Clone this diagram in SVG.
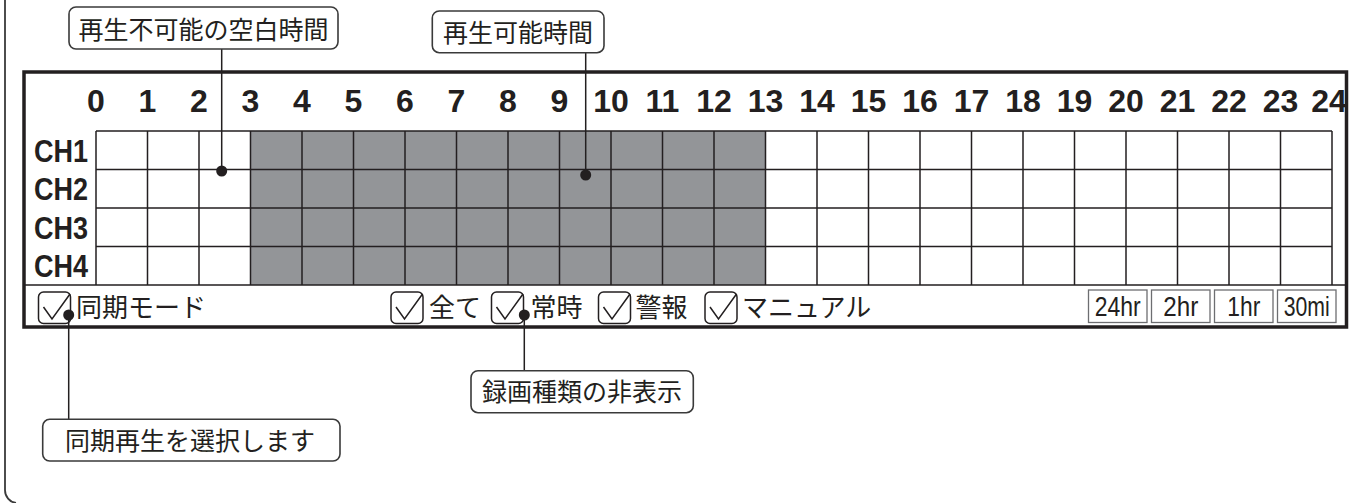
<svg xmlns="http://www.w3.org/2000/svg" width="1357" height="503" viewBox="0 0 1357 503">
<style>
.ln{fill:none;stroke:#231f20;stroke-width:1.5}
.call{fill:#fff;stroke:#3a3a3a;stroke-width:1.6}
.jp{font-family:"Noto Sans CJK JP","Noto Sans",sans-serif;fill:#231f20}
.c25{font-size:25px}
.c26{font-size:26px}
.hr{font-family:"Liberation Sans",Arial,sans-serif;font-weight:bold;font-size:32px;fill:#231f20;text-anchor:middle}
.ch{font-family:"Liberation Sans",Arial,sans-serif;font-weight:bold;font-size:31px;fill:#231f20}
.btn{fill:#fff;stroke:#6d6e71;stroke-width:1.3}
.bt{font-family:"Liberation Sans",Arial,sans-serif;font-size:28px;fill:#231f20;text-anchor:middle}
.cb{fill:#fff;stroke:#231f20;stroke-width:1.5}
.dot{fill:#231f20}
</style>
<rect width="1357" height="503" fill="#fff"/>
<g id="frame">
<path d="M5,0 V490 A13,13 0 0 0 16,503" fill="none" stroke="#3a3a3a" stroke-width="1.8"/>
</g>
<g id="panel">
<rect x="24" y="72" width="1322.5" height="255" fill="#fff" stroke="#231f20" stroke-width="3.5"/>
</g>
<g id="hours">
<text class="hr" x="96" y="112">0</text>
<text class="hr" x="147.5" y="112">1</text>
<text class="hr" x="199" y="112">2</text>
<text class="hr" x="250.5" y="112">3</text>
<text class="hr" x="302" y="112">4</text>
<text class="hr" x="353.5" y="112">5</text>
<text class="hr" x="405" y="112">6</text>
<text class="hr" x="456.5" y="112">7</text>
<text class="hr" x="508" y="112">8</text>
<text class="hr" x="559.5" y="112">9</text>
<text class="hr" x="611" y="112">10</text>
<text class="hr" x="662.5" y="112">11</text>
<text class="hr" x="714" y="112">12</text>
<text class="hr" x="765.5" y="112">13</text>
<text class="hr" x="817" y="112">14</text>
<text class="hr" x="868.5" y="112">15</text>
<text class="hr" x="920" y="112">16</text>
<text class="hr" x="971.5" y="112">17</text>
<text class="hr" x="1023" y="112">18</text>
<text class="hr" x="1074.5" y="112">19</text>
<text class="hr" x="1126" y="112">20</text>
<text class="hr" x="1177.5" y="112">21</text>
<text class="hr" x="1229" y="112">22</text>
<text class="hr" x="1280.5" y="112">23</text>
<text class="hr" x="1329" y="112">24</text>
</g>
<g id="channels">
<text class="ch" x="34" y="161.5" textLength="54" lengthAdjust="spacingAndGlyphs">CH1</text>
<text class="ch" x="34" y="200" textLength="54" lengthAdjust="spacingAndGlyphs">CH2</text>
<text class="ch" x="34" y="238.5" textLength="54" lengthAdjust="spacingAndGlyphs">CH3</text>
<text class="ch" x="34" y="277" textLength="54" lengthAdjust="spacingAndGlyphs">CH4</text>
</g>
<g id="grid">
<rect x="250.5" y="131" width="515" height="154" fill="#939598"/>
<path class="ln" d="M96,131H1332M96,169.5H1332M96,208H1332M96,246.5H1332M24,285H1346
M96,131V285M147.5,131V285M199,131V285M250.5,131V285M302,131V285M353.5,131V285M405,131V285M456.5,131V285M508,131V285M559.5,131V285M611,131V285M662.5,131V285M714,131V285M765.5,131V285M817,131V285M868.5,131V285M920,131V285M971.5,131V285M1023,131V285M1074.5,131V285M1126,131V285M1177.5,131V285M1229,131V285M1280.5,131V285M1332,131V285"/>
</g>
<g id="checkboxes">
<g id="cb-sync">
<rect class="cb" x="38.5" y="292" width="32" height="31.5" rx="5"/>
<path class="ln" d="M43.5,307 L52,319 L70,294"/>
<text class="jp c26" x="76" y="316.5">同期モード</text>
</g>
<g id="cb-all">
<rect class="cb" x="391" y="292" width="32" height="31.5" rx="5"/>
<path class="ln" d="M396,307 L404.5,319 L422.5,294"/>
<text class="jp c26" x="429" y="316.5">全て</text>
</g>
<g id="cb-normal">
<rect class="cb" x="491.5" y="292" width="32" height="31.5" rx="5"/>
<path class="ln" d="M496.5,307 L505,319 L523,294"/>
<text class="jp c26" x="530.5" y="316.5">常時</text>
</g>
<g id="cb-alarm">
<rect class="cb" x="598.5" y="292" width="32" height="31.5" rx="5"/>
<path class="ln" d="M603.5,307 L612,319 L630,294"/>
<text class="jp c26" x="635.5" y="316.5">警報</text>
</g>
<g id="cb-manual">
<rect class="cb" x="705" y="292" width="32" height="31.5" rx="5"/>
<path class="ln" d="M710,307 L718.5,319 L736.5,294"/>
<text class="jp c26" x="742" y="316.5">マニュアル</text>
</g>
</g>
<g id="buttons">
<g id="btn-24hr"><rect class="btn" x="1088.5" y="290" width="58.5" height="32.5"/><text class="bt" x="1117.75" y="316" textLength="46" lengthAdjust="spacingAndGlyphs">24hr</text></g>
<g id="btn-2hr"><rect class="btn" x="1151.5" y="290" width="58.5" height="32.5"/><text class="bt" x="1180.75" y="316" textLength="35" lengthAdjust="spacingAndGlyphs">2hr</text></g>
<g id="btn-1hr"><rect class="btn" x="1214.5" y="290" width="58.5" height="32.5"/><text class="bt" x="1243.75" y="316" textLength="33" lengthAdjust="spacingAndGlyphs">1hr</text></g>
<g id="btn-30mi"><rect class="btn" x="1277.5" y="290" width="58.5" height="32.5"/><text class="bt" x="1306.75" y="316" textLength="46" lengthAdjust="spacingAndGlyphs">30mi</text></g>
</g>
<g id="connectors">
<path class="ln" d="M221.7,49 V171 M585.7,52.7 V175 M524.3,315 V370.7 M68.7,315 V419.3"/>
<circle class="dot" cx="221.7" cy="171" r="5.5"/>
<circle class="dot" cx="585.7" cy="175" r="5.5"/>
<circle class="dot" cx="524.3" cy="315" r="5.5"/>
<circle class="dot" cx="68.7" cy="315" r="5.5"/>
</g>
<g id="callout-gap">
<rect class="call" x="69" y="7" width="269" height="42" rx="7"/>
<text class="jp c25" x="203.5" y="39" text-anchor="middle">再生不可能の空白時間</text>
</g>
<g id="callout-play">
<rect class="call" x="432.3" y="11" width="171.7" height="41.7" rx="7"/>
<text class="jp c25" x="518" y="42" text-anchor="middle">再生可能時間</text>
</g>
<g id="callout-hide">
<rect class="call" x="471" y="370.7" width="222.3" height="42" rx="7"/>
<text class="jp c25" x="582" y="401" text-anchor="middle">録画種類の非表示</text>
</g>
<g id="callout-sync">
<rect class="call" x="42.7" y="419.3" width="297.3" height="41.7" rx="7"/>
<text class="jp c25" x="190" y="450" text-anchor="middle">同期再生を選択します</text>
</g>
</svg>
